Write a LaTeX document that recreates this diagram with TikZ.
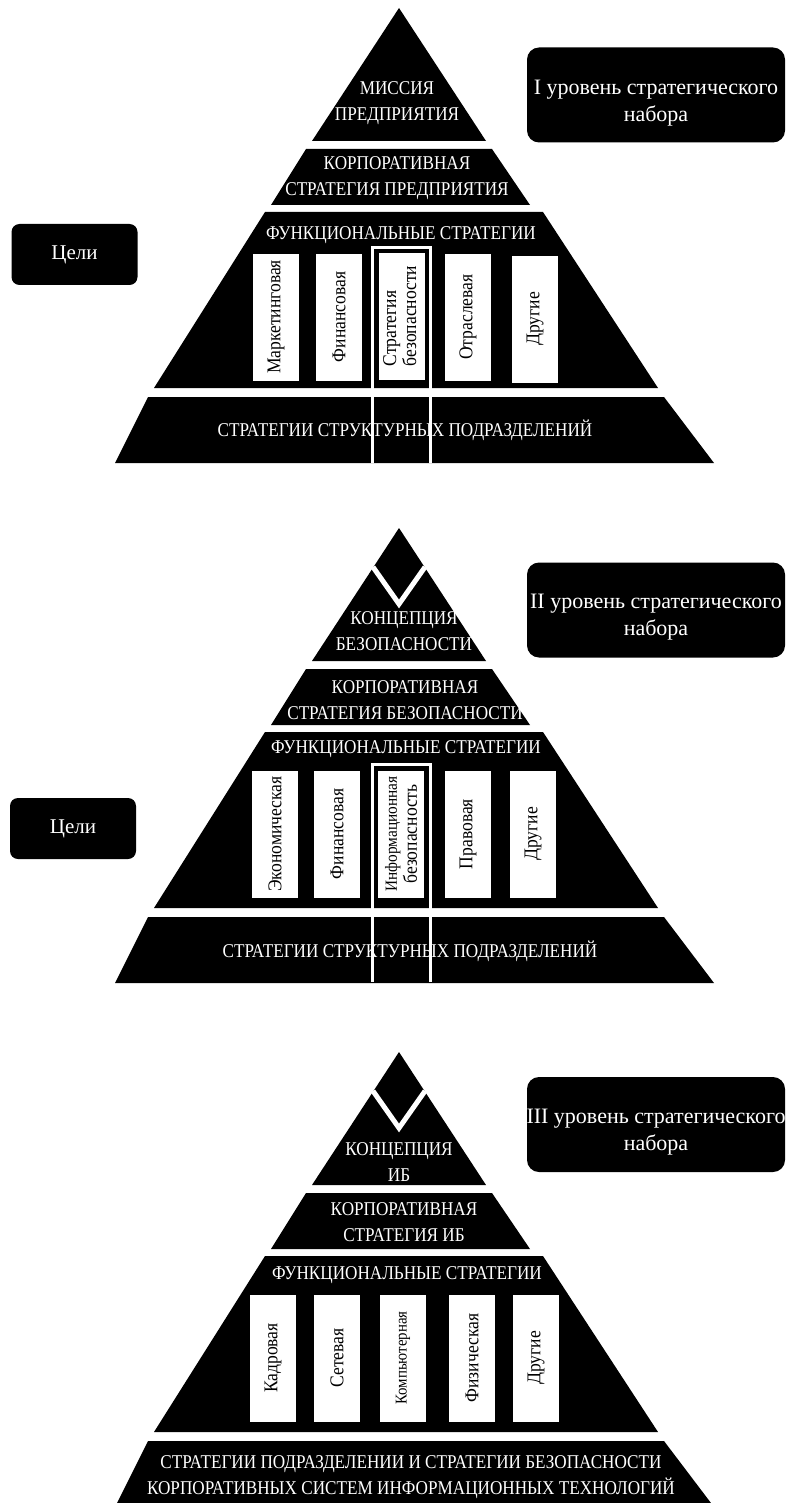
\documentclass[tikz,border=0pt]{standalone}
\usepackage{fontspec}
\setmainfont{Liberation Serif}
\newfontfamily\capsfont[FakeStretch=0.88]{Liberation Serif}
\newfontfamily\colfont[FakeStretch=0.9]{Liberation Serif}
\newcommand{\capsf}{\capsfont\fontsize{19.5}{25.5}\selectfont}
\tikzset{
    caps/.style={text=white,align=center,font=\capsf,inner sep=0pt},
    lvl/.style={fill=black,rounded corners=12pt,minimum width=258pt,minimum height=95pt},
    lvltxt/.style={text=white,align=center,inner sep=0pt,font=\fontsize{22}{26.5}\selectfont},
    goal/.style={fill=black,rounded corners=8pt,text=white,
        minimum width=126pt,minimum height=61pt,font=\fontsize{21}{25}\selectfont},
    strat/.style={fill=white,draw=black,rotate=90,align=center,inner sep=1pt,
        minimum width=128pt,minimum height=47pt,font=\colfont\fontsize{19.5}{20}\selectfont},
}
\newcommand{\pyr}[1] {
    \fill (399,#1) -- (486,{#1+133}) -- (312,{#1+133}) -- cycle;
    \fill (306,{#1+141}) -- (492,{#1+141}) -- (530,{#1+197}) -- (271,{#1+197}) -- cycle;
    \fill (265,{#1+204}) -- (543,{#1+204}) -- (658,{#1+380}) -- (154,{#1+380}) -- cycle;
    \fill (148,{#1+389}) -- (664,{#1+389}) -- (714,{#1+455}) -- (115,{#1+455}) -- cycle;
}
\newcommand{\notch}[1] {
    \draw[white,line width=5pt] (373,{#1+39}) -- (399,{#1+76}) -- (425,{#1+39});
}
\newcommand{\frm}[2] {
    \draw[white,line width=3pt] (372.5,#2) -- (372.5,#1) -- (430.5,#1) -- (430.5,#2);
}
\newcommand{\scol}[4] {
    \node[strat] (#1) at (#2,#3) {#4};
}

\begin{document}
\begin{tikzpicture}[x=1pt,y=-1pt]
    \useasboundingbox (0,0) rectangle (786,1503);

    % I
    \pyr{8}
    \node[caps] (p1miss) at (397,103) {МИССИЯ\\ПРЕДПРИЯТИЯ};
    \node[caps] (p1korp) at (397,178) {КОРПОРАТИВНАЯ\\СТРАТЕГИЯ ПРЕДПРИЯТИЯ};
    \node[caps] (p1func) at (401,235) {ФУНКЦИОНАЛЬНЫЕ СТРАТЕГИИ};
    \scol{p1mark}{276}{317}{Маркетинговая}
    \scol{p1fin}{339}{317}{Финансовая}
    \scol{p1sec}{402}{316}{\begin{tabular}{@{}l@{}}Стратегия\\безопасности\end{tabular}}
    \scol{p1otr}{468}{317}{Отраслевая}
    \scol{p1oth}{535}{319}{Другие}
    \node[caps] (p1base) at (405,430) {СТРАТЕГИИ СТРУКТУРНЫХ ПОДРАЗДЕЛЕНИЙ};
    \frm{247.5}{463}
    \node[lvl] (lvl1) at (656,95) {};
    \node[lvltxt] (lvl1t) at (656,103) {I уровень стратегического\\набора};
    \node[goal] (goal1) at (74.5,254.5) {Цели};

    % II
    \pyr{528}
    \notch{528}
    \node[caps] (p2conc) at (404,631) {КОНЦЕПЦИЯ\\БЕЗОПАСНОСТИ};
    \node[caps] (p2korp) at (405,700) {КОРПОРАТИВНАЯ\\СТРАТЕГИЯ БЕЗОПАСНОСТИ};
    \node[caps] (p2func) at (406,749) {ФУНКЦИОНАЛЬНЫЕ СТРАТЕГИИ};
    \scol{p2eco}{275}{834}{Экономическая}
    \scol{p2fin}{337}{834}{Финансовая}
    \scol{p2inf}{401}{834}{\fontsize{17}{17}\selectfont Информационная\\безопасность}
    \scol{p2prav}{468}{834}{Правовая}
    \scol{p2oth}{533}{834}{Другие}
    \node[caps] (p2base) at (410,951) {СТРАТЕГИИ СТРУКТУРНЫХ ПОДРАЗДЕЛЕНИЙ};
    \frm{764.5}{982}
    \node[lvl] (lvl2) at (656,610) {};
    \node[lvltxt] (lvl2t) at (656,617) {II уровень стратегического\\набора};
    \node[goal] (goal2) at (73,828.5) {Цели};

    % III
    \pyr{1052}
    \notch{1052}
    \node[caps] (p3conc) at (399,1162) {КОНЦЕПЦИЯ\\ИБ};
    \node[caps] (p3korp) at (404,1222) {КОРПОРАТИВНАЯ\\СТРАТЕГИЯ ИБ};
    \node[caps] (p3func) at (407,1275) {ФУНКЦИОНАЛЬНЫЕ СТРАТЕГИИ};
    \scol{p3kadr}{273}{1358}{Кадровая}
    \scol{p3set}{337}{1358}{Сетевая}
    \scol{p3comp}{403}{1358}{\fontsize{16.5}{17}\selectfont Компьютерная}
    \scol{p3phys}{472}{1358}{Физическая}
    \scol{p3oth}{536}{1358}{Другие}
    \node[caps] (p3base) at (411,1477) {СТРАТЕГИИ ПОДРАЗДЕЛЕНИИ И СТРАТЕГИИ БЕЗОПАСНОСТИ\\КОРПОРАТИВНЫХ СИСТЕМ ИНФОРМАЦИОННЫХ ТЕХНОЛОГИЙ};
    \node[lvl] (lvl3) at (656,1124.5) {};
    \node[lvltxt] (lvl3t) at (656,1132) {III уровень стратегического\\набора};
\end{tikzpicture}
\end{document}
